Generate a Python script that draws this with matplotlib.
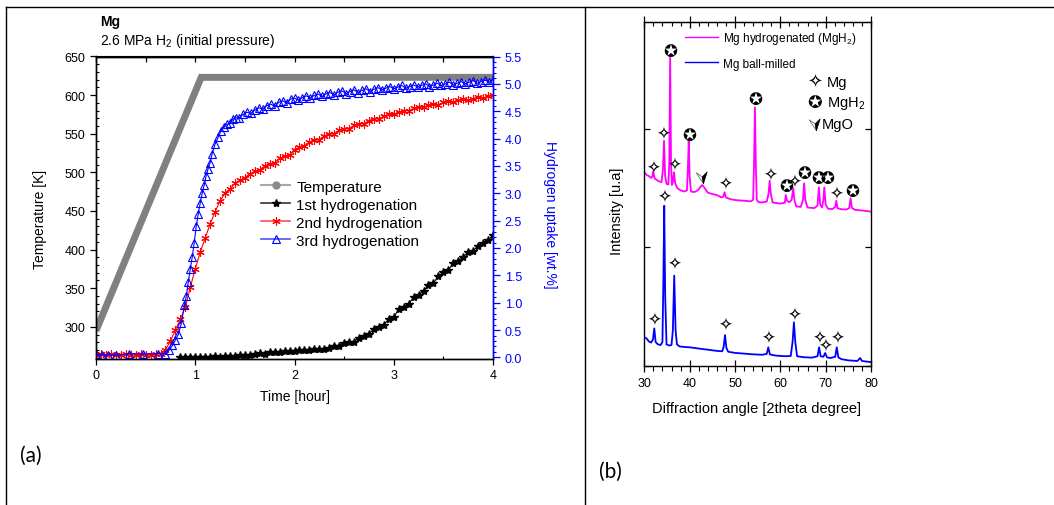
import matplotlib
matplotlib.use("Agg")
import matplotlib.pyplot as plt
from matplotlib.lines import Line2D
from matplotlib.path import Path
from matplotlib.ticker import MultipleLocator

plt.rcParams["font.family"] = ["Liberation Sans", "DejaVu Sans"]
plt.rcParams["mathtext.fontset"] = "custom"
plt.rcParams["mathtext.rm"] = "Liberation Sans"
plt.rcParams["mathtext.default"] = "rm"

# ---------------- (a) hydrogenation kinetics ----------------
temp_time = [0.0, 1.06, 4.0]
temp_kelvin = [295, 623, 623]

grid_time = [0.00, 0.05, 0.10, 0.15, 0.20, 0.25, 0.30, 0.35, 0.40, 0.45,
             0.50, 0.55, 0.60, 0.65, 0.70, 0.75, 0.80, 0.85, 0.90, 0.95,
             1.00, 1.05, 1.10, 1.15, 1.20, 1.25, 1.30, 1.35, 1.40, 1.45,
             1.50, 1.55, 1.60, 1.65, 1.70, 1.75, 1.80, 1.85, 1.90, 1.95,
             2.00, 2.05, 2.10, 2.15, 2.20, 2.25, 2.30, 2.35, 2.40, 2.45,
             2.50, 2.55, 2.60, 2.65, 2.70, 2.75, 2.80, 2.85, 2.90, 2.95,
             3.00, 3.05, 3.10, 3.15, 3.20, 3.25, 3.30, 3.35, 3.40, 3.45,
             3.50, 3.55, 3.60, 3.65, 3.70, 3.75, 3.80, 3.85, 3.90, 3.95,
             4.00]

first_time = grid_time[17:]
first_uptake = [0.00, 0.00, 0.01, 0.00, 0.01, 0.00, 0.01, 0.02, 0.01, 0.02,
                0.03, 0.02, 0.04, 0.05, 0.04, 0.07, 0.08, 0.07, 0.09, 0.10,
                0.09, 0.11, 0.12, 0.11, 0.13, 0.14, 0.13, 0.15, 0.16, 0.15,
                0.18, 0.21, 0.21, 0.26, 0.28, 0.29, 0.36, 0.40, 0.43, 0.52,
                0.56, 0.60, 0.70, 0.74, 0.88, 0.92, 0.98, 1.10, 1.14, 1.22,
                1.32, 1.36, 1.48, 1.56, 1.60, 1.72, 1.76, 1.84, 1.92, 1.95,
                2.04, 2.10, 2.14, 2.24]

second_uptake = [0.05, 0.06, 0.04, 0.06, 0.05, 0.04, 0.06, 0.05, 0.04, 0.06,
                 0.05, 0.04, 0.06, 0.07, 0.14, 0.30, 0.50, 0.70, 0.92, 1.28,
                 1.62, 1.92, 2.18, 2.44, 2.66, 2.86, 3.00, 3.08, 3.18, 3.24,
                 3.28, 3.36, 3.40, 3.43, 3.50, 3.54, 3.56, 3.64, 3.68, 3.70,
                 3.80, 3.84, 3.86, 3.93, 3.97, 3.98, 4.05, 4.08, 4.09, 4.15,
                 4.18, 4.18, 4.24, 4.27, 4.27, 4.33, 4.36, 4.36, 4.41, 4.44,
                 4.44, 4.48, 4.51, 4.51, 4.55, 4.58, 4.57, 4.61, 4.64, 4.62,
                 4.66, 4.69, 4.67, 4.70, 4.73, 4.70, 4.73, 4.76, 4.74, 4.77,
                 4.80]

third_time = [0.00, 0.06, 0.12, 0.20, 0.33, 0.47, 0.62, 0.70, 0.74, 0.77,
              0.80, 0.83, 0.86, 0.89, 0.91, 0.93, 0.95, 0.97, 0.99, 1.01,
              1.03, 1.05, 1.07, 1.09, 1.11, 1.13, 1.15, 1.17, 1.20, 1.23,
              1.26, 1.29, 1.32, 1.35, 1.38, 1.41, 1.44, 1.48, 1.52, 1.56,
              1.60, 1.64, 1.68, 1.72, 1.76, 1.80, 1.84, 1.88, 1.92, 1.96,
              2.00, 2.04, 2.08, 2.12, 2.16, 2.20, 2.24, 2.28, 2.32, 2.36,
              2.40, 2.44, 2.48, 2.52, 2.56, 2.60, 2.64, 2.68, 2.72, 2.76,
              2.80, 2.84, 2.88, 2.92, 2.96, 3.00, 3.04, 3.08, 3.12, 3.16,
              3.20, 3.24, 3.28, 3.32, 3.36, 3.40, 3.44, 3.48, 3.52, 3.56,
              3.60, 3.64, 3.68, 3.72, 3.76, 3.80, 3.84, 3.88, 3.92, 3.96,
              4.00]
third_uptake = [0.06, 0.04, 0.05, 0.04, 0.07, 0.06, 0.07, 0.06, 0.14, 0.22,
                0.32, 0.42, 0.62, 0.95, 1.12, 1.38, 1.62, 1.84, 2.10, 2.40,
                2.62, 2.82, 3.00, 3.15, 3.32, 3.45, 3.56, 3.72, 3.90, 4.02,
                4.14, 4.22, 4.26, 4.28, 4.36, 4.38, 4.37, 4.44, 4.48, 4.46,
                4.52, 4.56, 4.54, 4.60, 4.63, 4.59, 4.66, 4.69, 4.65, 4.72,
                4.74, 4.70, 4.75, 4.78, 4.74, 4.79, 4.81, 4.77, 4.82, 4.84,
                4.80, 4.85, 4.87, 4.82, 4.86, 4.89, 4.84, 4.88, 4.91, 4.86,
                4.90, 4.93, 4.89, 4.92, 4.95, 4.91, 4.94, 4.97, 4.92, 4.95,
                4.98, 4.94, 4.97, 5.00, 4.95, 4.98, 5.01, 4.97, 5.00, 5.03,
                4.98, 5.01, 5.04, 5.00, 5.03, 5.06, 5.01, 5.04, 5.07, 5.03,
                5.07]

kinetics_labels = ["Temperature", "1st hydrogenation", "2nd hydrogenation",
                   "3rd hydrogenation"]

# ---------------- (b) XRD patterns ----------------
milled_2theta = [30.0, 30.5, 31.0, 31.5, 31.9, 32.2, 32.5, 33.0, 33.6, 34.0,
                 34.2, 34.4, 34.6, 34.9, 35.5, 36.0, 36.3, 36.6, 36.9, 37.2,
                 37.8, 39.0, 40.0, 42.0, 44.0, 46.0, 47.2, 47.5, 47.8, 48.1,
                 48.5, 50.0, 52.0, 54.0, 56.0, 57.0, 57.35, 57.7, 59.0, 61.0,
                 62.3, 62.7, 63.0, 63.3, 63.7, 65.0, 67.0, 68.2, 68.55, 68.9,
                 69.5, 69.9, 70.3, 71.0, 72.1, 72.45, 72.8, 73.5, 75.0, 77.0,
                 77.6, 78.0, 79.0, 80.0]
milled_counts = [240, 230, 205, 195, 220, 315, 200, 180, 175, 200,
                 700, 1350, 600, 180, 170, 175, 300, 760, 300, 180,
                 162, 158, 155, 145, 135, 125, 122, 160, 259, 150,
                 118, 108, 102, 96, 92, 100, 155, 95, 85, 80,
                 82, 200, 366, 200, 80, 72, 68, 80, 155, 80,
                 75, 107, 70, 65, 75, 155, 70, 55, 45, 40,
                 65, 40, 35, 30]

hydrided_2theta = [30.0, 30.5, 31.0, 31.5, 31.8, 31.95, 32.3, 33.0, 33.8, 34.1,
                   34.35, 34.6, 34.9, 35.3, 35.5, 35.7, 35.9, 36.1, 36.35, 36.55,
                   36.8, 37.3, 38.0, 38.8, 39.4, 39.6, 39.8, 40.0, 40.3, 41.0,
                   41.8, 42.4, 42.8, 43.3, 44.0, 45.0, 46.0, 47.0, 47.4, 47.7,
                   48.0, 49.0, 50.0, 52.0, 53.5, 54.0, 54.2, 54.4, 54.6, 54.8,
                   55.2, 56.0, 57.0, 57.4, 57.65, 57.9, 58.3, 59.0, 60.0, 61.0,
                   61.2, 61.5, 62.0, 62.5, 62.85, 63.1, 63.5, 64.5, 65.0, 65.25,
                   65.5, 66.0, 67.5, 68.2, 68.5, 68.8, 69.2, 69.5, 69.7, 70.0,
                   70.5, 71.5, 72.1, 72.35, 72.6, 73.5, 74.5, 75.2, 75.5, 75.8,
                   76.5, 78.0, 79.0, 80.0]
hydrided_counts = [1632, 1610, 1600, 1585, 1595, 1640, 1580, 1560, 1548, 1650,
                   1899, 1600, 1535, 1530, 1700, 2603, 1700, 1525, 1560, 1632,
                   1540, 1497, 1480, 1470, 1480, 1650, 1899, 1600, 1470, 1465,
                   1480, 1510, 1525, 1500, 1460, 1449, 1440, 1420, 1425, 1463,
                   1420, 1405, 1398, 1392, 1387, 1400, 1700, 2180, 1700, 1400,
                   1380, 1378, 1385, 1450, 1561, 1450, 1378, 1373, 1368, 1375,
                   1440, 1390, 1380, 1400, 1497, 1400, 1345, 1340, 1400, 1539,
                   1400, 1335, 1330, 1350, 1505, 1360, 1335, 1400, 1505, 1360,
                   1325, 1322, 1340, 1392, 1330, 1320, 1318, 1330, 1413, 1330,
                   1315, 1310, 1305, 1300]

xrd_labels = ["Mg hydrogenated (MgH$_2$)", "Mg ball-milled"]

# phase marks: (2theta, height)
mg_marks_milled = [(32.2, 386), (34.4, 1424), (36.6, 858), (47.8, 343),
                   (57.4, 234), (63.0, 430), (68.6, 234), (70.0, 166),
                   (72.5, 234)]
mg_marks_hydrided = [(32.0, 1674), (34.2, 1961), (36.6, 1694), (47.8, 1533),
                     (57.7, 1609), (63.0, 1553), (72.4, 1449)]
mgh2_marks = [(35.7, 2658), (39.8, 1949), (54.5, 2251), (61.4, 1514),
              (65.3, 1626), (68.4, 1581), (70.4, 1581), (75.9, 1477)]
mgo_marks = [(42.8, 1590)]

W, H = 1054, 506
fig = plt.figure(figsize=(W / 100, H / 100), dpi=100)


def fx(px):
    return px / W


def fy(py):
    return 1 - py / H


def ftext(x, y, s, **kw):
    kw.setdefault("ha", "center")
    kw.setdefault("va", "center")
    return fig.text(fx(x), fy(y), s, **kw)


# panel frame
frame_kw = dict(color="black", lw=1.0)
fig.add_artist(Line2D([fx(6), 1.0], [fy(8), fy(8)], **frame_kw))
fig.add_artist(Line2D([fx(6), fx(6)], [fy(8), 0.0], **frame_kw))
fig.add_artist(Line2D([fx(585), fx(585)], [fy(8), 0.0], **frame_kw))

# ---- panel (a)
ax = fig.add_axes([fx(96), fy(359.5), fx(397), 302 / H])
ax2 = ax.twinx()

ax.plot(temp_time, temp_kelvin, color="#808080", lw=5,
        solid_joinstyle="miter", solid_capstyle="butt")
ax.set_xlim(0, 4)
ax.set_ylim(259, 650)
ax2.set_ylim(-0.02, 5.5)

ax2.plot(first_time, first_uptake, color="black", lw=0.8, marker="*", ms=6)
ax2.plot(grid_time, second_uptake, color="red", lw=0.8, marker=(6, 2, 0),
         ms=6, mew=0.8)
ax2.plot(third_time, third_uptake, color="blue", lw=0.8, marker="^",
         mfc="none", ms=6, mew=0.8)

ax.xaxis.set_major_locator(MultipleLocator(1))
ax.xaxis.set_minor_locator(MultipleLocator(0.5))
ax.yaxis.set_major_locator(MultipleLocator(50))
ax.yaxis.set_minor_locator(MultipleLocator(10))
ax.tick_params(which="major", direction="out", length=4, width=0.9,
               labelsize=9, top=False, right=False)
ax.tick_params(which="minor", direction="in", length=2.5, width=0.8,
               top=False, right=False)
ax.set_yticks([300, 350, 400, 450, 500, 550, 600, 650])

top_a = ax.secondary_xaxis("top")
top_a.xaxis.set_major_locator(MultipleLocator(0.5))
top_a.tick_params(direction="in", length=4, width=0.9, labeltop=False)

ax2.yaxis.set_major_locator(MultipleLocator(0.5))
ax2.yaxis.set_minor_locator(MultipleLocator(0.1))
ax2.set_yticks([0.0, 0.5, 1.0, 1.5, 2.0, 2.5, 3.0, 3.5, 4.0, 4.5, 5.0, 5.5])
ax2.yaxis.set_major_formatter(plt.FormatStrFormatter("%.1f"))
ax2.tick_params(which="major", direction="out", length=5, width=0.9,
                colors="blue", labelsize=9)
ax2.tick_params(which="minor", direction="out", length=2.5, width=0.8,
                colors="blue")
ax2.spines["right"].set_color("blue")
ax.spines["right"].set_color("blue")
for a in (ax, ax2):
    for s in a.spines.values():
        s.set_linewidth(1.0)

handles = [
    Line2D([], [], color="#a8a8a8", lw=1.5, marker="o", ms=5, mfc="#8c8c8c",
           mec="#8c8c8c"),
    Line2D([], [], color="#333333", lw=1.2, marker="*", ms=6, mfc="black",
           mec="black"),
    Line2D([], [], color="#ff5050", lw=1.2, marker=(6, 2, 0), ms=6,
           mec="red", mew=0.8),
    Line2D([], [], color="#5050ff", lw=1.2, marker="^", ms=6, mfc="none",
           mec="blue", mew=0.8),
]
ax2.legend(handles, kinetics_labels, loc="upper left",
           bbox_to_anchor=(0.416, 0.592), frameon=False, fontsize=11,
           handlelength=1.9, handletextpad=0.4, labelspacing=0.26,
           borderpad=0, borderaxespad=0)

ftext(100, 26, "Mg", ha="left", va="baseline", fontsize=10, weight="bold")
ftext(100, 45, "2.6 MPa H$_2$ (initial pressure)", ha="left",
      va="baseline", fontsize=10)
ftext(40, 219, "Temperature [K]", rotation=90, fontsize=10)
ftext(550, 215, "Hydrogen uptake [wt.%]", rotation=270, fontsize=10,
      color="blue")
ftext(295, 397, "Time [hour]", fontsize=10)
ftext(31, 456, "(a)", fontsize=15, family=["Lato", "DejaVu Sans"])

# ---- panel (b)
bx = fig.add_axes([fx(644.3), fy(366.7), fx(226.7), 344 / H])
bx.plot(milled_2theta, milled_counts, color="blue", lw=1.3)
bx.plot(hydrided_2theta, hydrided_counts, color="magenta", lw=1.3)
bx.set_xlim(30, 80)
bx.set_ylim(0, 2903)

bx.xaxis.set_major_locator(MultipleLocator(10))
bx.xaxis.set_minor_locator(MultipleLocator(2))
bx.tick_params(axis="x", which="major", direction="inout", length=9,
               width=0.9, labelsize=9, top=False)
bx.tick_params(axis="x", which="minor", direction="out", length=3.5,
               width=0.8, top=False)
bx.yaxis.set_major_locator(MultipleLocator(1000))
bx.tick_params(axis="y", which="major", direction="in", length=4,
               width=0.9, left=True, right=True, labelleft=False)
top_b = bx.secondary_xaxis("top")
top_b.xaxis.set_major_locator(MultipleLocator(10))
top_b.xaxis.set_minor_locator(MultipleLocator(2))
top_b.tick_params(which="major", direction="inout", length=9, width=0.9,
                  labeltop=False)
top_b.tick_params(which="minor", direction="in", length=3, width=0.8)
for s in bx.spines.values():
    s.set_linewidth(1.0)

xrd_handles = [Line2D([], [], color="magenta", lw=1.0),
               Line2D([], [], color="blue", lw=1.0)]
bx.legend(xrd_handles, xrd_labels, loc="upper left",
          bbox_to_anchor=(0.18, 0.975), frameon=False, fontsize=8.5,
          handlelength=2.8, handletextpad=0.4, labelspacing=0.95,
          borderpad=0, borderaxespad=0)

glyph_kw = dict(ha="center", va="center", family=["DejaVu Sans"])
for tt, hh in mg_marks_milled + mg_marks_hydrided:
    bx.text(tt, hh, "\u2727", fontsize=12, **glyph_kw)
for tt, hh in mgh2_marks:
    bx.text(tt, hh, "\u272A", fontsize=12, **glyph_kw)

# MgO arrowhead: open left wing, filled right wing
left_wing = Path([(0.15, -1.0), (-1.0, 0.75), (-0.05, 0.1), (0.15, -1.0)],
                 [Path.MOVETO, Path.LINETO, Path.LINETO, Path.CLOSEPOLY])
right_wing = Path([(0.15, -1.0), (-0.05, 0.1), (0.75, 0.9), (0.15, -1.0)],
                  [Path.MOVETO, Path.LINETO, Path.LINETO, Path.CLOSEPOLY])
for tt, hh in mgo_marks:
    bx.plot([tt], [hh], marker=left_wing, ms=9, mfc="white", mec="#555555",
            mew=0.5, ls="none")
    bx.plot([tt], [hh], marker=right_wing, ms=9, mfc="black", mec="black",
            mew=0.5, ls="none")

ftext(815, 83, "\u2727", family=["DejaVu Sans"], fontsize=13)
ftext(827, 83, "Mg", ha="left", fontsize=10.5)
ftext(815, 103.5, "\u272A", family=["DejaVu Sans"], fontsize=12.5)
ftext(827, 103.5, "MgH$_2$", ha="left", fontsize=10.5)
key_ax = fig.add_axes([0, 0, 1, 1], facecolor="none")
key_ax.set_axis_off()
key_ax.set_xlim(0, W)
key_ax.set_ylim(H, 0)
key_ax.plot([815], [125], marker=left_wing, ms=9, mfc="white", mec="#555555",
            mew=0.5, ls="none")
key_ax.plot([815], [125], marker=right_wing, ms=9, mfc="black", mec="black",
            mew=0.5, ls="none")
ftext(822, 125, "MgO", ha="left", fontsize=10.5)

ftext(617, 211, "Intensity [u.a]", rotation=90, fontsize=10.5)
ftext(757, 409, "Diffraction angle [2theta degree]", fontsize=10.5)
ftext(610, 472, "(b)", fontsize=15, family=["Lato", "DejaVu Sans"])

fig.savefig("out.png", dpi=100)
